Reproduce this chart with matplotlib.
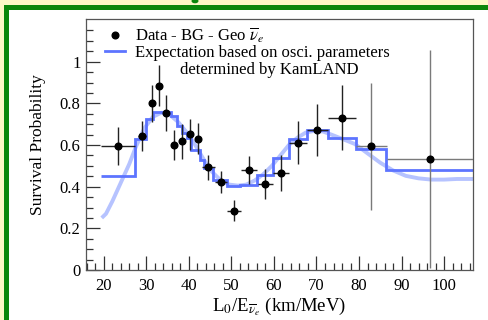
import matplotlib
matplotlib.use("Agg")
import matplotlib.pyplot as plt
from matplotlib.patches import Rectangle, Circle
import numpy as np

plt.rcParams['font.family'] = ['Liberation Serif', 'DejaVu Serif']
plt.rcParams['mathtext.fontset'] = 'stix'

# measured points (data - BG - geo)
data_x = [23.4, 28.9, 31.3, 33.0, 34.7, 36.4, 38.3, 40.2, 42.2, 44.6,
          47.5, 50.6, 54.2, 57.8, 61.6, 65.6, 70.2, 76.1, 82.8, 96.6]
data_y = [0.595, 0.641, 0.800, 0.885, 0.753, 0.598, 0.617, 0.652, 0.631, 0.494,
          0.423, 0.285, 0.480, 0.413, 0.466, 0.612, 0.673, 0.732, 0.593, 0.535]
data_yerr = [0.090, 0.072, 0.090, 0.100, 0.085, 0.072, 0.085, 0.075, 0.075, 0.060,
             0.053, 0.050, 0.068, 0.073, 0.085, 0.105, 0.125, 0.155, 0.305, 0.523]
data_xlo = [19.4, 28.0, 30.6, 32.3, 34.0, 35.7, 37.6, 39.5, 41.5, 43.0,
            46.1, 48.9, 52.2, 56.2, 59.7, 63.6, 67.7, 72.6, 79.4, 86.5]
data_xhi = [27.4, 29.9, 32.0, 33.7, 35.4, 37.1, 39.0, 40.9, 42.9, 46.1,
            49.0, 52.3, 56.1, 59.7, 63.6, 67.7, 72.8, 79.3, 86.5, 106.8]

# expectation, binned
step_edges = [19.4, 27.4, 29.9, 31.5, 35.7, 37.3, 38.3, 39.5, 40.6, 42.6,
              43.6, 45.7, 48.9, 52.0, 55.9, 59.8, 63.6, 67.7, 72.8, 79.3,
              86.4, 106.8]
step_vals = [0.452, 0.628, 0.724, 0.760, 0.737, 0.689, 0.657, 0.633, 0.577,
             0.530, 0.489, 0.433, 0.405, 0.409, 0.457, 0.537, 0.628, 0.670,
             0.633, 0.580, 0.481]

# expectation, unbinned
curve_x = [19.5, 20.5, 22.0, 24.0, 26.0, 27.5, 29.5, 31.5, 33.5, 35.5,
           37.5, 39.5, 41.5, 43.5, 45.5, 47.5, 49.5, 51.5, 53.5, 55.5,
           57.5, 59.5, 61.5, 63.5, 65.5, 67.5, 69.5, 71.5, 73.5, 76.0,
           79.0, 82.0, 85.0, 88.0, 91.0, 94.0, 97.0, 100.0, 103.0, 106.8]
curve_y = [0.250, 0.270, 0.330, 0.420, 0.510, 0.590, 0.680, 0.735, 0.755, 0.745,
           0.710, 0.660, 0.600, 0.530, 0.470, 0.430, 0.410, 0.405, 0.410, 0.430,
           0.460, 0.500, 0.550, 0.600, 0.635, 0.660, 0.668, 0.665, 0.650, 0.630,
           0.605, 0.560, 0.515, 0.478, 0.452, 0.440, 0.434, 0.434, 0.437, 0.437]

W, H = 488, 320
fig = plt.figure(figsize=(W / 100, H / 100), dpi=100)
fig.patch.set_facecolor('#fdf8c6')

# green slide frame
fig.patches.append(Rectangle((4 / W, 0), 1, 1 - 5 / H, transform=fig.transFigure,
                             facecolor='#0b870b', edgecolor='none', zorder=-2))
fig.patches.append(Rectangle((9 / W, 0), 1, 1 - 10 / H, transform=fig.transFigure,
                             facecolor='white', edgecolor='none', zorder=-1))
fig.patches.append(Circle((195 / W, 1 - 1 / H), 3.5 / W, transform=fig.transFigure,
                          facecolor='#0b870b', edgecolor='none', zorder=-1))

ax = fig.add_axes([86 / W, 50 / H, 387 / W, 251 / H])
ax.set_facecolor('none')

ax.plot(curve_x, curve_y, color='#b6c3ff', lw=2.8, zorder=1, solid_capstyle='butt')
ax.stairs(step_vals, step_edges, color='#5d74ff', lw=2.0, zorder=2,
          baseline=None, label='Expectation based on osci. parameters')

dx = np.array(data_x)
xerr = [dx - np.array(data_xlo), np.array(data_xhi) - dx]
ecols = ['#222222'] * 18 + ['#7a7a7a', '#7a7a7a']
for i in range(len(data_x)):
    ax.errorbar(data_x[i], data_y[i], yerr=data_yerr[i],
                xerr=[[xerr[0][i]], [xerr[1][i]]], fmt='none',
                ecolor=ecols[i], elinewidth=1.0, capsize=0, zorder=3)
ax.plot(data_x, data_y, 'o', color='black', ms=4.8, zorder=4,
        label=r'Data - BG - Geo $\overline{\nu}_{e}$')

ax.set_xlim(15.8, 106.8)
ax.set_ylim(0, 1.205)
ax.set_xticks(np.arange(20, 101, 10))
ax.set_xticks(np.arange(16, 107, 2), minor=True)
ax.set_yticks([0, 0.2, 0.4, 0.6, 0.8, 1])
ax.set_yticklabels(['0', '0.2', '0.4', '0.6', '0.8', '1'])
ax.set_yticks(np.arange(0, 1.2, 0.05), minor=True)
ax.tick_params(which='both', direction='in', top=False, right=False,
               color='#333333', labelsize=12, width=0.9)
ax.tick_params(which='major', length=10)
ax.tick_params(axis='y', which='major', pad=4)
ax.tick_params(axis='x', which='major', pad=6)
ax.tick_params(which='minor', length=5)
for s in ax.spines.values():
    s.set_color('#555555')
    s.set_linewidth(0.9)

ax.set_ylabel('Survival Probability', fontsize=12.5, labelpad=10)
ax.set_xlabel(r'L$_0$/E$_{\overline{\nu}_e}$ (km/MeV)', fontsize=13.5, labelpad=1)

handles, labels = ax.get_legend_handles_labels()
leg = ax.legend(handles[::-1], labels[::-1], loc='upper left',
                bbox_to_anchor=(0.032, 1.0), frameon=False, fontsize=12,
                handlelength=1.2, handletextpad=0.6, labelspacing=0.0,
                borderaxespad=0.0)
ax.text(0.703, 0.797, 'determined by KamLAND', transform=ax.transAxes,
        ha='right', va='center', fontsize=12)

fig.savefig('out.png', dpi=100, facecolor=fig.get_facecolor())
